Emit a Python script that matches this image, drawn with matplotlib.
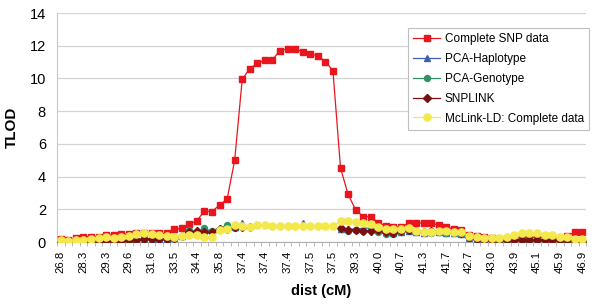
import numpy as np
import matplotlib
matplotlib.use('Agg')
import matplotlib.pyplot as plt

plt.rcParams['font.family'] = ['Liberation Sans', 'DejaVu Sans']

nan = np.nan

# every 3rd category gets a label
tick_labels = ['26.8', '28.3', '29.3', '29.6', '31.6', '33.5', '34.4', '35.8',
               '37.4', '37.4', '37.4', '37.5', '37.5', '39.3', '40.0', '40.7',
               '41.3', '41.7', '42.7', '43.0', '43.9', '45.1', '45.9', '46.9']

complete_snp = [0.16, 0.12, 0.22, 0.33, 0.33, 0.33, 0.43, 0.43, 0.47, 0.47,
                0.53, 0.57, 0.57, 0.53, 0.53, 0.78, 0.84, 1.10, 1.30, 1.90,
                1.86, 2.27, 2.61, 5.00, 9.95, 10.60, 10.93, 11.11, 11.15, 11.70,
                11.82, 11.82, 11.62, 11.52, 11.38, 11.03, 10.48, 4.53, 2.92, 1.98,
                1.55, 1.55, 1.18, 0.98, 0.90, 0.94, 1.16, 1.16, 1.16, 1.16,
                1.02, 0.92, 0.80, 0.73, 0.45, 0.35, 0.30, 0.25, 0.20, 0.20,
                0.25, 0.27, 0.27, 0.27, 0.27, 0.22, 0.20, 0.40, 0.60, 0.60]

pca_haplotype = [0.02, 0.02, 0.03, 0.05, 0.08, 0.08, 0.03, 0.05, 0.05, 0.03,
                 0.12, 0.15, 0.18, 0.18, 0.20, 0.25, 0.35, 0.60, 0.60, 0.70,
                 0.70, 0.85, 0.90, 0.90, 1.15, nan, nan, nan, nan, nan,
                 nan, nan, 1.15, nan, nan, nan, nan, 0.80, 0.78, 0.80,
                 0.85, 0.85, 0.72, 0.60, 0.55, 0.62, 0.70, 0.62, 0.58, 0.60,
                 0.62, 0.58, 0.55, 0.50, 0.25, 0.12, 0.08, 0.05, 0.05, 0.04,
                 0.04, 0.05, 0.05, 0.05, 0.04, 0.04, 0.03, 0.03, 0.02, 0.02]

pca_genotype = [0.02, 0.02, 0.03, 0.04, 0.05, 0.05, 0.04, 0.06, 0.05, 0.02,
                0.14, 0.18, 0.20, 0.20, 0.22, 0.28, 0.40, 0.72, 0.62, 0.84,
                0.65, 0.80, 1.05, 0.85, nan, nan, nan, nan, nan, nan,
                nan, nan, nan, nan, nan, nan, nan, 0.80, 0.70, 0.72,
                0.70, 0.72, 0.60, 0.50, 0.50, 0.60, 0.72, 0.62, 0.60, 0.55,
                0.60, 0.55, 0.55, 0.50, 0.30, 0.18, 0.12, 0.10, 0.08, 0.08,
                0.10, 0.12, 0.12, 0.12, 0.10, 0.08, 0.08, 0.08, 0.05, 0.05]

snplink = [0.02, 0.02, 0.03, 0.03, 0.05, 0.05, 0.05, 0.08, 0.05, 0.10,
           0.15, 0.20, 0.20, 0.20, 0.20, 0.25, 0.40, 0.62, 0.65, 0.62,
           0.60, 0.82, 0.78, 0.90, 0.95, 0.90, nan, nan, nan, nan,
           nan, nan, nan, nan, nan, nan, nan, 0.84, 0.75, 0.75,
           0.68, 0.70, 0.72, 0.62, 0.57, 0.65, 0.75, 0.70, 0.60, 0.65,
           0.68, 0.65, 0.60, 0.55, 0.30, 0.20, 0.15, 0.12, 0.10, 0.10,
           0.12, 0.15, 0.15, 0.15, 0.12, 0.10, 0.10, 0.10, 0.05, 0.05]

mclink_ld = [0.12, 0.08, 0.12, 0.12, 0.16, 0.22, 0.29, 0.22, 0.29, 0.37,
             0.49, 0.57, 0.49, 0.43, 0.37, 0.33, 0.39, 0.43, 0.43, 0.31,
             0.30, 0.71, 0.78, 1.04, 0.99, 0.94, 1.05, 1.05, 0.98, 0.97,
             0.97, 0.97, 0.97, 0.97, 0.97, 0.97, 0.97, 1.29, 1.29, 1.24,
             1.16, 1.08, 0.94, 0.82, 0.78, 0.78, 0.85, 0.65, 0.63, 0.63,
             0.67, 0.67, 0.63, 0.59, 0.38, 0.33, 0.27, 0.22, 0.25, 0.31,
             0.45, 0.58, 0.58, 0.58, 0.41, 0.41, 0.33, 0.28, 0.20, 0.18]

x = np.arange(len(complete_snp))

fig = plt.figure(figsize=(6, 3.06), dpi=100)
ax = fig.add_axes([0.095, 0.209, 0.882, 0.7485])

ax.plot(x, complete_snp, color='#e8161c', lw=0.9, marker='s', ms=4.2,
        label='Complete SNP data', zorder=3)
ax.plot(x, pca_haplotype, color='#3f5fb0', lw=0.9, marker='^', ms=4.5,
        label='PCA-Haplotype', zorder=4)
ax.plot(x, pca_genotype, color='#2e9468', lw=0.9, marker='o', ms=4.3,
        label='PCA-Genotype', zorder=5)
ax.plot(x, snplink, color='#7b1010', lw=0.9, marker='D', ms=3.6,
        label='SNPLINK', zorder=6)
ax.plot(x, mclink_ld, color='#f3e84c', lw=0.9, marker='o', ms=5.2,
        label='McLink-LD: Complete data', zorder=7)

ax.set_xlim(-0.5, len(x) - 0.5)
ax.set_ylim(0, 14)
ax.set_yticks(np.arange(0, 15, 2))
ax.set_xticks(x[::3])
ax.set_xticklabels(tick_labels, rotation=90, fontsize=8.2)
ax.set_xticks(np.arange(-0.5, len(x), 1), minor=True)
ax.tick_params(axis='x', which='major', length=0, pad=6)
ax.tick_params(axis='x', which='minor', length=3, color='#b0b0b0')
ax.tick_params(axis='y', length=0, labelsize=10.5, pad=8)

ax.grid(axis='y', color='#d4d4d4', lw=0.9)
ax.set_axisbelow(True)
for s in ['top', 'right']:
    ax.spines[s].set_visible(False)
ax.spines['left'].set_color('#c8c8c8')
ax.spines['bottom'].set_color('#b0b0b0')

ax.set_ylabel('TLOD', fontsize=11, fontweight='bold', labelpad=8)
ax.set_xlabel('dist (cM)', fontsize=10.5, fontweight='bold', labelpad=8)

leg = fig.legend(loc='upper left', bbox_to_anchor=(0.68, 0.908), fontsize=8.5,
                 frameon=True, fancybox=False, edgecolor='#bfbfbf',
                 framealpha=1, handlelength=2.3, handletextpad=0.35,
                 labelspacing=0.66, borderpad=0.45, borderaxespad=0)
leg.get_frame().set_linewidth(0.8)

fig.savefig('out.png', dpi=100)
